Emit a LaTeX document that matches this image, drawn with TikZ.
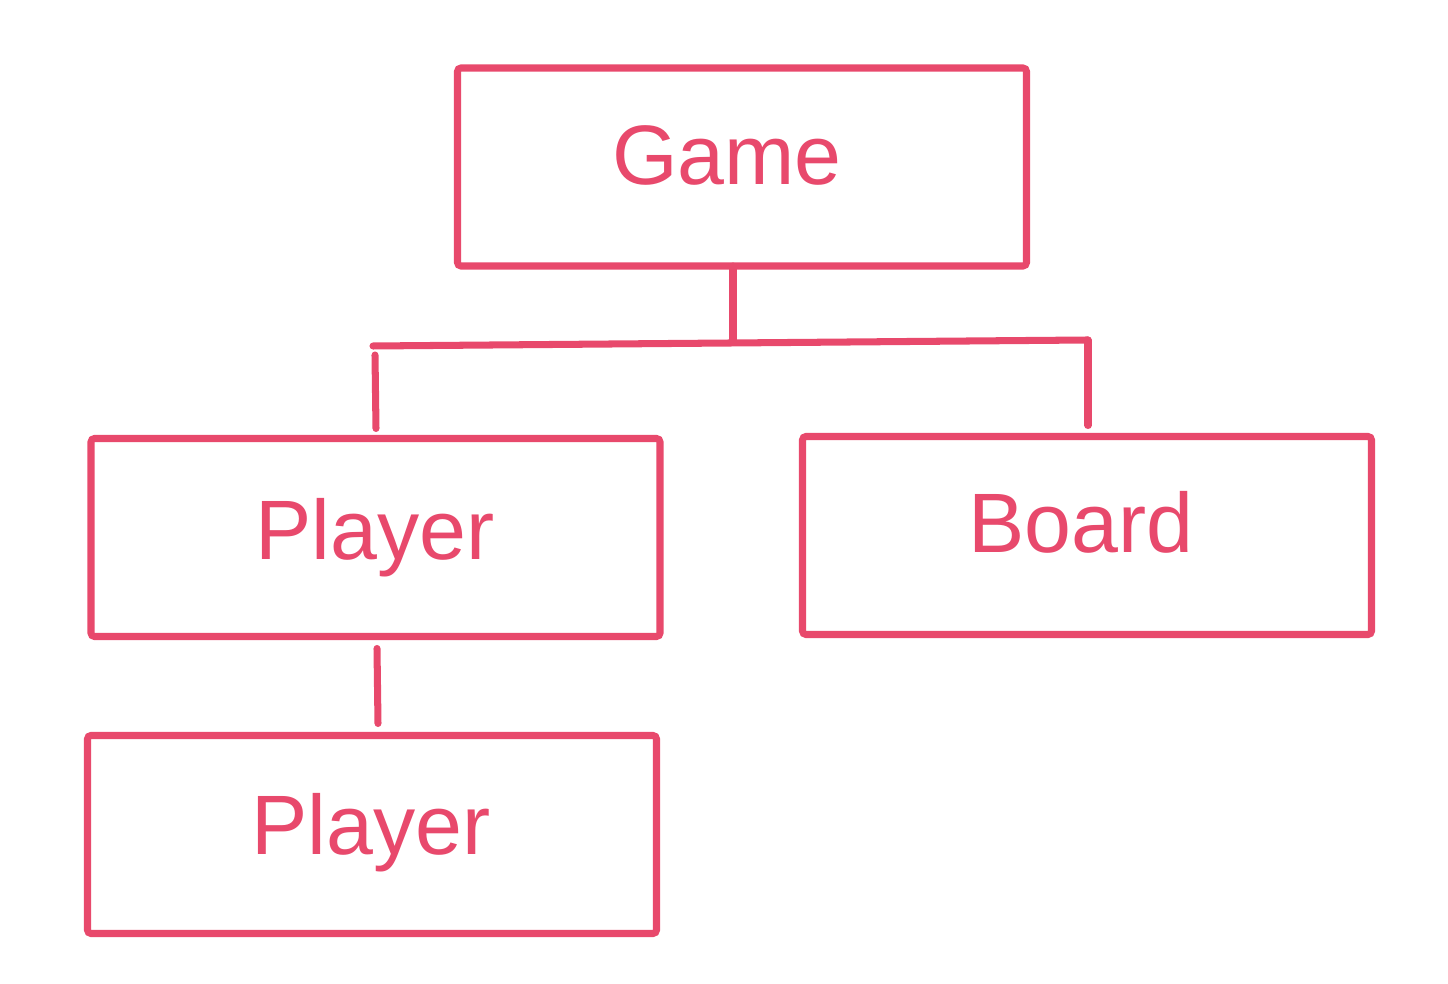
\documentclass[tikz,border=0pt]{standalone}
\usepackage{fontspec}
\setmainfont{Liberation Sans}
\usepackage{xcolor}
\definecolor{skred}{RGB}{232,73,108}
\tikzset{
  classbox/.style={rectangle,draw=skred,line width=2pt,rounded corners=1pt,minimum width=5.69cm,minimum height=1.98cm,outer sep=0pt,fill=white},
  classlbl/.style={anchor=base,text=skred,inner sep=0pt,font=\fontsize{24}{28}\selectfont},
  treeline/.style={draw=skred,line width=2pt,line cap=round}
}

\begin{document}
\begin{tikzpicture}
  \useasboundingbox (0,0) rectangle (14.48,9.84);
  \node[classbox] (game) at (7.42,8.17) {};
  \node[classbox] (player) at (3.755,4.465) {};
  \node[classbox] (board) at (10.87,4.485) {};
  \node[classbox] (subplayer) at (3.72,1.495) {};
  \node[classlbl] (gametxt) at (7.27,7.99) {Game};
  \node[classlbl] (playertxt) at (3.75,4.24) {Player};
  \node[classlbl] (boardtxt) at (10.81,4.31) {Board};
  \node[classlbl] (subplayertxt) at (3.71,1.29) {Player};
  \coordinate (hub) at (7.33,6.43);
  \coordinate (barL) at (3.73,6.38);
  \coordinate (barR) at (10.88,6.44);
  \draw[treeline] (game.south -| hub) -- (hub);
  \draw[treeline] (barL) -- (barR);
  \draw[treeline] ([xshift=0.2mm,yshift=-0.9mm]barL) -- ([yshift=1mm]player.north -| 3.76,0);
  \draw[treeline] (barR) -- ([yshift=1.1mm]board.north -| barR);
  \draw[treeline] ([yshift=-1.2mm]player.south -| 3.77,0) -- ([yshift=1.2mm]subplayer.north -| 3.78,0);
\end{tikzpicture}
\end{document}
